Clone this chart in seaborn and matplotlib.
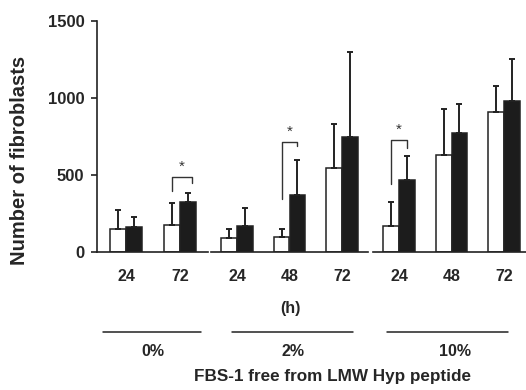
import matplotlib
matplotlib.use("Agg")
import matplotlib.pyplot as plt
import seaborn as sns
import pandas as pd
import numpy as np

sns.set_style("white")
plt.rcParams['font.family'] = ['Liberation Sans', 'DejaVu Sans']

groups = ["0%", "2%", "10%"]
times = [["24", "72"], ["24", "48", "72"], ["24", "48", "72"]]
white_mean = [[151, 177], [91, 100, 548], [169, 630, 909]]
white_err = [[122, 139], [56, 49, 285], [156, 296, 171]]
black_mean = [[160, 323], [169, 368, 745], [468, 771, 983]]
black_err = [[69, 58], [115, 229, 556], [155, 192, 272]]
# significance brackets: (group, time index, top, left leg bottom, right leg bottom)
sig_group = [0, 1, 2]
sig_time = [1, 1, 0]
sig_top = [489, 712, 727]
sig_left = [398, 342, 440]
sig_right = [450, 688, 673]

W, H = 526, 390
fig = plt.figure(figsize=(W / 100, H / 100), dpi=100)
y0, y1 = 252, 21
ax_px = [(97, 208, -0.537, 1.52), (211, 368, -0.5, 2.5), (373, 526, -0.5, 2.42)]
dark = "#222222"

axes = []
bars = []
for gi, (l, r, xl, xr) in enumerate(ax_px):
    ax = fig.add_axes([l / W, (H - y0) / H, (r - l) / W, (y0 - y1) / H])
    axes.append(ax)
    df = pd.DataFrame({
        "time": times[gi] * 2,
        "value": white_mean[gi] + black_mean[gi],
        "serum": ["white"] * len(times[gi]) + ["black"] * len(times[gi]),
    })
    sns.barplot(data=df, x="time", y="value", hue="serum", order=times[gi],
                hue_order=["white", "black"], palette=["white", "#1c1c1c"],
                width=0.6, edgecolor=dark, linewidth=1.1, errorbar=None,
                legend=False, ax=ax)
    conts = list(ax.containers)
    bars.append(conts)
    errs = [white_err[gi], black_err[gi]]
    for ci, cont in enumerate(conts):
        xs = [b.get_x() + b.get_width() / 2 for b in cont]
        hs = [b.get_height() for b in cont]
        ax.errorbar(xs, hs, yerr=[np.zeros(len(xs)), errs[ci]], fmt="none",
                    ecolor=dark, elinewidth=1.4, capsize=2, capthick=1.4, zorder=1)
    ax.set_xlim(xl, xr)
    ax.set_ylim(0, 1500)
    ax.set_xlabel("")
    ax.set_ylabel("")
    for s in ["top", "right"]:
        ax.spines[s].set_visible(False)
    ax.spines["bottom"].set_color(dark)
    ax.spines["bottom"].set_linewidth(1.2)
    ax.tick_params(axis="x", length=0, pad=12)
    for t in ax.get_xticklabels():
        t.set_fontweight("bold")
        t.set_fontsize(11.5)
    if gi == 0:
        ax.spines["left"].set_color(dark)
        ax.spines["left"].set_linewidth(1.2)
        ax.set_yticks([0, 500, 1000, 1500])
        ax.tick_params(axis="y", length=4, width=1.2, color=dark, labelsize=12, pad=5, left=True)
        for t in ax.get_yticklabels():
            t.set_fontweight("bold")
    else:
        ax.spines["left"].set_visible(False)
        ax.set_yticks([])
    ax.patch.set_alpha(0)

for g, ti, top, lb, rb in zip(sig_group, sig_time, sig_top, sig_left, sig_right):
    ax = axes[g]
    wb = bars[g][0][ti]
    bb = bars[g][1][ti]
    xl_ = wb.get_x() + wb.get_width() / 2
    xr_ = bb.get_x() + bb.get_width() / 2 + (0.08 if g == 0 else 0)
    ax.plot([xl_, xl_, xr_, xr_], [lb, top, top, rb], color="#333333", lw=1.0, clip_on=False)
    ax.text((xl_ + xr_) / 2, top + 20, "*", ha="center", va="bottom", fontsize=11, color="#333333")

fig.text(20 / W, 1 - 160 / H, "Number of fibroblasts", rotation=90, ha="center", va="center",
         fontsize=14.5, fontweight="bold")
fig.text(290 / W, 1 - 308 / H, "(h)", ha="center", va="center", fontsize=11.5, fontweight="bold")
for (a, b) in [(103, 201), (232, 353), (387, 508)]:
    fig.add_artist(plt.Line2D([a / W, b / W], [1 - 331.5 / H] * 2, color=dark, lw=1.1))
for x, lab in [(153, "0%"), (293, "2%"), (455, "10%")]:
    fig.text(x / W, 1 - 352 / H, lab, ha="center", va="center", fontsize=11.5, fontweight="bold")
fig.text(333 / W, 1 - 377 / H, "FBS-1 free from LMW Hyp peptide", ha="center", va="center",
         fontsize=12.3, fontweight="bold")

fig.savefig("out.png", dpi=100)
